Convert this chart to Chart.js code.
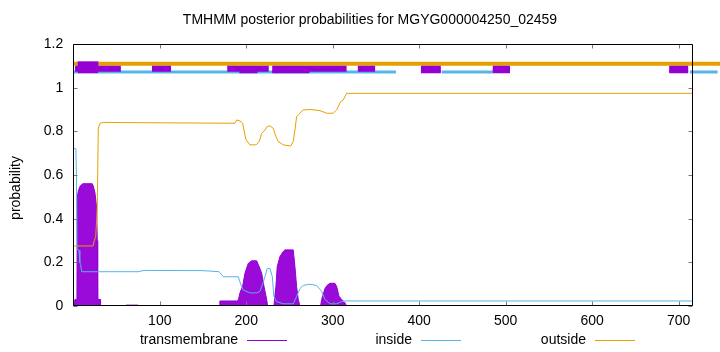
<!DOCTYPE html>
<html>
<head>
<meta charset="utf-8">
<script src="https://cdn.jsdelivr.net/npm/chart.js@4"></script>
<style>
html, body { margin: 0; padding: 0; background: #fff; }
#wrap { width: 720px; height: 352px; }
</style>
</head>
<body>
<div id="wrap"><canvas id="tmhmmChart" width="720" height="352"></canvas></div>
<script>
const seqLength = 716;
const titleText = 'TMHMM posterior probabilities for MGYG000004250_02459';
const yTitle = 'probability';
const seriesNames = ['transmembrane', 'inside', 'outside'];
const xTicks = [100, 200, 300, 400, 500, 600, 700];
const yTicks = [0, 0.2, 0.4, 0.6, 0.8, 1, 1.2];
const yTickLabels = ['0', '0.2', '0.4', '0.6', '0.8', '1', '1.2'];

// posterior probabilities as [residue, value]
const tmProb = [[0,0],[2,0.03],[4.2,0.03],[4.6,0.5],[6,0.53],[8,0.55],[11,0.56],[22,0.56],[23,0.55],[25,0.52],[27,0.45],[27.7,0.3],[28.2,0.03],[31,0.03],[31.5,0],
  [60,0],[61,0.004],[75,0.004],[76,0],[168.5,0],[169.5,0.023],[189,0.023],[191,0.03],[192.7,0.06],[195.8,0.09],[198.5,0.15],[202.3,0.195],[206.2,0.207],[212,0.207],
  [215,0.18],[217.8,0.15],[220.5,0.09],[223.6,0.03],[224.7,0],[232,0],[233.2,0.05],[234.3,0.09],[235.8,0.18],[238.9,0.226],[242.8,0.25],[244.7,0.257],[254.3,0.257],
  [256.3,0.18],[258.2,0.09],[260.1,0.03],[262.1,0],[286,0],[287.2,0.03],[291,0.08],[293.6,0.095],[296.8,0.104],[302.5,0.104],[304.5,0.09],[307.2,0.045],[310.3,0.03],
  [314.1,0.015],[316,0],[716,0]];
const insideProb = [[0,0.722],[3,0.72],[3.6,0.6],[4.3,0.26],[6.6,0.255],[7.5,0.2],[8.5,0.19],[9.7,0.157],[75,0.157],[82,0.163],[150,0.162],[168.8,0.157],[173.4,0.134],
  [190.8,0.134],[193.5,0.1],[196.5,0.073],[204.3,0.06],[212,0.06],[215.8,0.067],[219.7,0.11],[221.6,0.134],[224.3,0.172],[227.4,0.172],[230.1,0.134],[232,0.043],
  [235.1,0.02],[242.8,0.01],[254.3,0.01],[258.2,0.043],[262.1,0.08],[265.9,0.094],[273.6,0.1],[281.4,0.094],[287.2,0.067],[291,0.03],[296.8,0.01],[304.5,0.01],
  [310.3,0.02],[314.1,0.023],[716,0.023]];
const outsideProb = [[0,0.275],[22.8,0.275],[24.3,0.3],[25.9,0.317],[27,0.394],[27.7,0.455],[28.9,0.814],[30.9,0.837],[34.7,0.841],[60,0.84],[186.9,0.837],
  [188.9,0.852],[192.7,0.848],[195.8,0.837],[197.3,0.806],[199.7,0.761],[204.3,0.738],[211.2,0.738],[215,0.753],[217.8,0.791],[221.6,0.806],[224.3,0.822],
  [227.4,0.825],[231.2,0.814],[234.3,0.776],[237,0.753],[242.8,0.738],[251.3,0.733],[254.3,0.753],[256.3,0.806],[258.2,0.867],[262.1,0.883],[265.9,0.898],
  [273.6,0.9],[285.2,0.895],[292.9,0.883],[300.6,0.883],[304.5,0.898],[309.1,0.936],[312.1,0.944],[316.1,0.974],[716,0.974]];

// topology strip along the top, [from, to] residue ranges
const outsideSegs = [[0, 750]];
const insideSegs = [[0, 5], [29, 373], [426, 485], [713, 745]];
const tmSegs = [[2, 55], [91, 113], [178, 226], [230, 316], [329, 349], [402, 425], [485, 505], [689, 711], [742, 760]];
const tmCoreSegs = [[5, 29]];
const tmLowSegs = [[192, 213], [230, 273], [402, 425], [485, 505], [689, 711]];

const purple = '#9400D3';
const blue = '#56B4E9';
const orange = '#E69F00';
const fontFamily = "'Liberation Sans', Arial, sans-serif";

function pts(arr) {
    return arr.map(p => ({ x: p[0], y: p[1] }));
}

function segs(ranges, level) {
    let out = [];
    ranges.forEach(r => {
        out.push({ x: r[0], y: level }, { x: r[1], y: level }, { x: r[1], y: null });
    });
    return out;
}

function strip(ranges, level, color, width, order) {
    return {
        data: segs(ranges, level),
        borderColor: color,
        borderWidth: width,
        borderCapStyle: 'butt',
        pointRadius: 0,
        spanGaps: false,
        fill: false,
        clip: false,
        order: order
    };
}

const decorations = {
    id: 'decorations',
    afterDraw(chart) {
        const { ctx, chartArea: a, scales: { x, y } } = chart;
        const L = Math.round(a.left) + 0.5, R = Math.round(a.right) - 0.5;
        const T = Math.round(a.top) + 0.5, B = Math.round(a.bottom) - 0.5;
        ctx.save();
        // inward tick marks on all four sides
        ctx.strokeStyle = '#7a7a7a';
        ctx.lineWidth = 1;
        ctx.beginPath();
        xTicks.forEach(v => {
            const px = Math.round(x.getPixelForValue(v)) + 0.5;
            ctx.moveTo(px, B); ctx.lineTo(px, B - 4);
            ctx.moveTo(px, T); ctx.lineTo(px, T + 4);
        });
        yTicks.forEach(v => {
            const py = Math.round(y.getPixelForValue(v)) + 0.5;
            ctx.moveTo(L, py); ctx.lineTo(L + 4, py);
            ctx.moveTo(R, py); ctx.lineTo(R - 4, py);
        });
        ctx.stroke();
        // frame
        ctx.strokeStyle = '#000';
        ctx.beginPath();
        ctx.rect(L, T, R - L, B - T);
        ctx.stroke();

        ctx.fillStyle = '#000';
        ctx.font = '14px ' + fontFamily;
        ctx.textBaseline = 'middle';
        ctx.textAlign = 'center';
        ctx.fillText(titleText, 370, 20);

        ctx.save();
        ctx.translate(16, 188);
        ctx.rotate(-Math.PI / 2);
        ctx.fillText(yTitle, 0, 0);
        ctx.restore();

        // legend: text then line sample
        const legendColors = [purple, blue, orange];
        const textRight = [238, 412, 586];
        ctx.textAlign = 'right';
        seriesNames.forEach((name, i) => {
            ctx.fillStyle = '#000';
            ctx.fillText(name, textRight[i], 340);
            ctx.strokeStyle = legendColors[i];
            ctx.beginPath();
            ctx.moveTo(textRight[i] + 9, 340.5);
            ctx.lineTo(textRight[i] + 49, 340.5);
            ctx.stroke();
        });
        ctx.restore();
    }
};

const ctx = document.getElementById('tmhmmChart');
const chart = new Chart(ctx, {
    type: 'line',
    data: {
        datasets: [
            {
                label: seriesNames[0],
                data: pts(tmProb),
                borderColor: purple,
                borderWidth: 1,
                backgroundColor: '#9a0ad8',
                fill: 'origin',
                pointRadius: 0,
                order: 10
            },
            {
                label: seriesNames[1],
                data: pts(insideProb),
                borderColor: blue,
                borderWidth: 1,
                fill: false,
                pointRadius: 0,
                order: 9
            },
            {
                label: seriesNames[2],
                data: pts(outsideProb),
                borderColor: orange,
                borderWidth: 1,
                fill: false,
                pointRadius: 0,
                order: 8
            },
            strip(outsideSegs, 1.11, orange, 4, 5),
            strip(insideSegs, 1.072, blue, 3, 4),
            strip(tmSegs, 1.0866, purple, 6, 3),
            strip(tmCoreSegs, 1.093, purple, 12, 2),
            strip(tmLowSegs, 1.073, purple, 3, 1)
        ]
    },
    options: {
        responsive: false,
        animation: false,
        layout: { padding: { top: 44, right: 27.5, left: 0, bottom: 0 } },
        plugins: {
            legend: { display: false },
            tooltip: { enabled: false },
            title: { display: false }
        },
        scales: {
            x: {
                type: 'linear',
                min: 0,
                max: seqLength,
                grid: { display: false, drawTicks: false },
                border: { display: false },
                afterBuildTicks: s => { s.ticks = xTicks.map(v => ({ value: v })); },
                afterFit: s => { s.height = 46; },
                ticks: {
                    autoSkip: false,
                    maxRotation: 0,
                    padding: 7,
                    color: '#000',
                    font: { family: fontFamily, size: 14 },
                    callback: v => String(v)
                }
            },
            y: {
                type: 'linear',
                min: 0,
                max: 1.2,
                grid: { display: false, drawTicks: false },
                border: { display: false },
                afterBuildTicks: s => { s.ticks = yTicks.map(v => ({ value: v })); },
                afterFit: s => { s.width = 73.3; },
                ticks: {
                    autoSkip: false,
                    padding: 10,
                    color: '#000',
                    font: { family: fontFamily, size: 14 },
                    callback: v => yTickLabels[yTicks.indexOf(v)]
                }
            }
        }
    },
    plugins: [decorations]
});
</script>
</body>
</html>
